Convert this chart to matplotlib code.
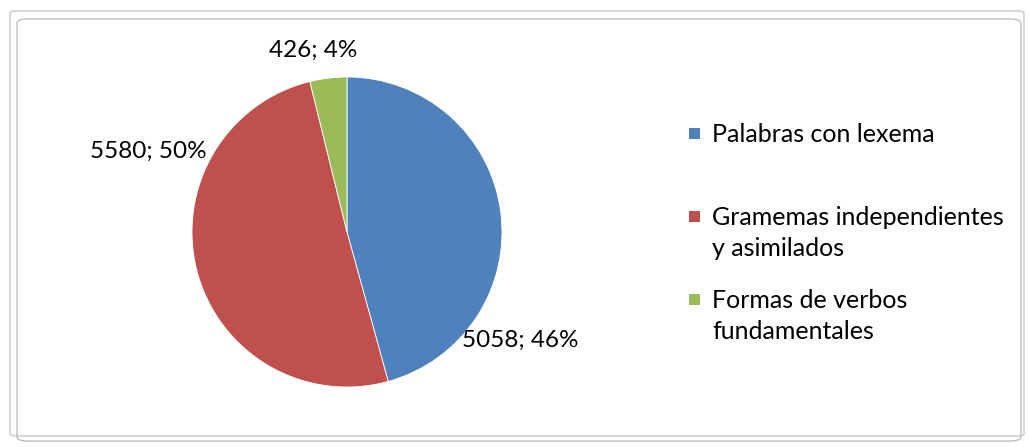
import matplotlib.pyplot as plt
from matplotlib.patches import FancyBboxPatch, Rectangle

categories = ['Palabras con lexema', 'Gramemas independientes\ny asimilados',
              'Formas de verbos\nfundamentales']
values = [5058, 5580, 426]
colors = ['#4F81BD', '#C0504D', '#9BBB59']

plt.rcParams['font.family'] = ['Lato', 'DejaVu Sans']

W, H = 1029, 447
fig = plt.figure(figsize=(W / 100, H / 100), dpi=100)

# chart frame
frame_outer = FancyBboxPatch((10 / W, 11 / H), 1014 / W, 425 / H,
                             boxstyle='round,pad=0,rounding_size=0.006',
                             transform=fig.transFigure, fill=False,
                             edgecolor='#d8d8d8', linewidth=1.5)
frame_inner = FancyBboxPatch((17 / W, 6 / H), 1004 / W, 422 / H,
                             boxstyle='round,pad=0,rounding_size=0.01',
                             transform=fig.transFigure, fill=False,
                             edgecolor='#bdbdbd', linewidth=1.0)
fig.patches.extend([frame_outer, frame_inner])

# pie
cx, cy, r = 347, 215, 155
ax = fig.add_axes([(cx - r) / W, (cy - r) / H, 2 * r / W, 2 * r / H])
wedges, _ = ax.pie(values, colors=colors, startangle=90, counterclock=False,
                   radius=1, wedgeprops=dict(edgecolor='white', linewidth=0.6))
ax.set_xlim(-1, 1)
ax.set_ylim(-1, 1)
ax.set_aspect('equal')
ax.axis('off')

total = sum(values)
label_pos = [(1.12, -0.70), (-1.28, 0.52), (-0.22, 1.17)]
for v, (lx, ly) in zip(values, label_pos):
    ax.text(lx, ly, '%d; %d%%' % (v, round(100 * v / total)), ha='center',
            va='center', fontsize=17.5, color='black', clip_on=False)

# legend
legend_y = [133, 216, 299]
for w, lab, y in zip(wedges, categories, legend_y):
    fig.patches.append(Rectangle((689 / W, 1 - (y + 6) / H), 11 / W, 11 / H,
                                 transform=fig.transFigure,
                                 facecolor=w.get_facecolor(), edgecolor='none'))
    fig.text(712 / W, 1 - (y - 10) / H, lab, ha='left', va='top',
             fontsize=18, color='black', linespacing=1.4)

fig.savefig('out.png', dpi=100)
